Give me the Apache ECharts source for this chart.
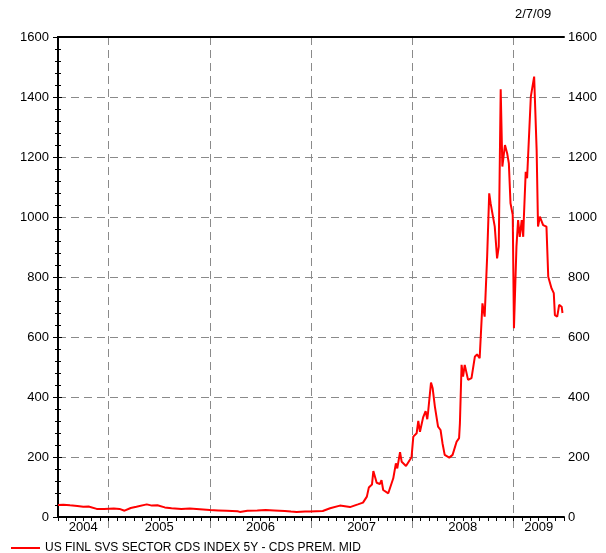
<!DOCTYPE html>
<html>
<head>
<meta charset="utf-8">
<script src="https://cdn.jsdelivr.net/npm/echarts@6/dist/echarts.min.js"></script>
<style>
html,body{margin:0;padding:0;background:#fff;}
#chart{width:606px;height:553px;}
</style>
</head>
<body>
<div id="chart"></div>
<script>
// ---- data ----
const seriesName = 'US FINL SVS SECTOR CDS INDEX 5Y - CDS PREM. MID';
const asOfLabel = '2/7/09';
const yearLabels = ['2004', '2005', '2006', '2007', '2008', '2009'];
const yTicks = [0, 200, 400, 600, 800, 1000, 1200, 1400, 1600];
const dates = [
  '2004-07-01','2004-07-20','2004-08-14','2004-09-10','2004-10-01','2004-10-20','2004-11-19','2004-12-15',
  '2005-01-20','2005-02-10','2005-02-28','2005-03-20','2005-04-10','2005-05-17','2005-06-05','2005-06-25',
  '2005-07-21','2005-08-15','2005-09-20','2005-10-20','2005-11-26',
  '2006-01-01','2006-02-01','2006-03-01','2006-04-10','2006-04-18','2006-05-15','2006-06-20','2006-07-20',
  '2006-08-20','2006-09-28','2006-10-20','2006-11-10','2006-12-10','2006-12-28',
  '2007-01-20','2007-02-13','2007-03-09','2007-04-14','2007-05-20','2007-06-18','2007-07-06','2007-07-20',
  '2007-07-27','2007-08-08','2007-08-13','2007-08-25','2007-09-06','2007-09-12','2007-09-18','2007-10-06',
  '2007-10-24','2007-11-03','2007-11-08','2007-11-18','2007-11-24','2007-12-09','2007-12-29',
  '2008-01-05','2008-01-17','2008-01-23','2008-01-29','2008-02-10','2008-02-19','2008-02-25','2008-02-28',
  '2008-03-08','2008-03-14','2008-03-22','2008-04-03','2008-04-12','2008-04-19','2008-04-27','2008-05-13',
  '2008-05-25','2008-06-09','2008-06-18','2008-06-21','2008-06-27','2008-07-02','2008-07-08','2008-07-20',
  '2008-08-02','2008-08-14','2008-08-22','2008-09-01','2008-09-11','2008-09-19','2008-09-28','2008-10-05',
  '2008-10-10','2008-10-17','2008-10-25','2008-11-03','2008-11-09','2008-11-16','2008-11-22','2008-12-01',
  '2008-12-09','2008-12-15','2008-12-21','2008-12-29',
  '2009-01-03','2009-01-06','2009-01-12','2009-01-18','2009-01-24','2009-01-31','2009-02-06','2009-02-08',
  '2009-02-15','2009-02-20','2009-03-03','2009-03-15','2009-03-24','2009-03-29','2009-04-05','2009-04-17',
  '2009-04-29','2009-05-05','2009-05-17','2009-05-25','2009-05-29','2009-06-07','2009-06-14','2009-06-23',
  '2009-06-26'
];
const values = [
  40,41,39,37,34,35,27,27,
  28,27,21,30,34,42,38,39,
  32,29,27,28,26,
  23,22,21,19,17,21,22,23,
  22,20,18,17,18,18,
  19,20,29,38,33,42,48,68,
  98,108,153,114,110,123,90,79,
  129,179,162,216,184,170,199,
  268,279,320,284,332,353,326,350,
  448,429,368,301,290,246,207,198,
  207,251,263,312,507,468,507,457,
  463,534,542,529,712,668,868,1079,
  1046,1046,968,862,901,1426,1168,1240,
  1212,1179,1046,1007,
  629,634,901,990,934,990,934,990,
  1151,1129,1401,1468,1223,968,1001,973,
  968,801,762,746,673,668,707,701,
  680
];

// months since 2004-07-01 (x scale of the chart)
function toMonth(s) {
  const p = s.split('-').map(Number);
  return (p[0] - 2004) * 12 + (p[1] - 7) + (p[2] - 1) / 30.44;
}
const lineData = dates.map((d, i) => [toMonth(d), values[i]]);
const yearBoundaries = [6, 18, 30, 42, 54];
const yearLabelPos = [3, 12, 24, 36, 48, 57];

const FONT = 'Liberation Sans, Arial, sans-serif';
const chart = echarts.init(document.getElementById('chart'), null, {renderer: 'canvas'});
const gridDash = {color: '#8a8a8a', width: 1, type: [8, 5]};

const option = {
  animation: false,
  backgroundColor: '#fff',
  title: {
    text: asOfLabel, left: 510, top: 3,
    textStyle: {fontFamily: FONT, fontSize: 13, fontWeight: 'normal', color: '#000'}
  },
  legend: {
    left: 6, top: 537,
    icon: 'rect', itemWidth: 29, itemHeight: 2, itemGap: 6,
    textStyle: {fontFamily: FONT, fontSize: 12, color: '#000', padding: [0, 0, 0, 0]},
    data: [seriesName]
  },
  grid: {left: 58, right: 42, top: 37, bottom: 36, containLabel: false},
  xAxis: [
    {
      type: 'value', position: 'bottom', min: 0, max: 60, interval: 1,
      axisLine: {onZero: false, lineStyle: {color: '#000', width: 2}},
      axisTick: {show: true, length: 4, lineStyle: {color: '#000', width: 1}},
      axisLabel: {
        customValues: yearLabelPos, margin: 4,
        fontFamily: FONT, fontSize: 13, color: '#000',
        formatter: v => yearLabels[yearLabelPos.indexOf(v)]
      },
      splitLine: {show: false}, z: 5
    },
    {
      type: 'value', position: 'bottom', min: 0, max: 60,
      axisLine: {show: false, onZero: false},
      axisTick: {show: true, customValues: yearBoundaries, length: 11, lineStyle: {color: '#8a8a8a', width: 1}},
      axisLabel: {show: false},
      splitLine: {show: true, lineStyle: gridDash}
    },
    {
      type: 'value', position: 'top', min: 0, max: 60,
      axisLine: {show: true, onZero: false, lineStyle: {color: '#000', width: 2}},
      axisTick: {show: false}, axisLabel: {show: false}, splitLine: {show: false}
    }
  ],
  yAxis: [
    {
      type: 'value', position: 'left', min: yTicks[0], max: yTicks[yTicks.length - 1], interval: 200,
      axisLine: {show: true, lineStyle: {color: '#000', width: 2}},
      axisTick: {show: true, length: 5, lineStyle: {color: '#000'}},
      minorTick: {show: true, splitNumber: 5, length: 3, lineStyle: {color: '#000'}},
      axisLabel: {margin: 9, fontFamily: FONT, fontSize: 13, color: '#000', padding: [0, 0, 9, 0],
        formatter: v => String(v)},
      splitLine: {show: true, lineStyle: gridDash}
    },
    {
      type: 'value', position: 'right', min: yTicks[0], max: yTicks[yTicks.length - 1], interval: 200,
      axisLine: {show: true, lineStyle: {color: '#000', width: 2}},
      axisTick: {show: true, length: 4, lineStyle: {color: '#000'}},
      minorTick: {show: true, splitNumber: 5, length: 3, lineStyle: {color: '#000'}},
      axisLabel: {margin: 4, fontFamily: FONT, fontSize: 13, color: '#000', padding: [0, 0, 9, 0],
        formatter: v => String(v)},
      splitLine: {show: false}
    }
  ],
  series: [{
    name: seriesName, type: 'line', xAxisIndex: 0, yAxisIndex: 0,
    data: lineData, showSymbol: false, symbol: 'none',
    lineStyle: {color: '#ff0000', width: 2}, itemStyle: {color: '#ff0000'},
    z: 3
  }]
};
chart.setOption(option);
</script>
</body>
</html>
